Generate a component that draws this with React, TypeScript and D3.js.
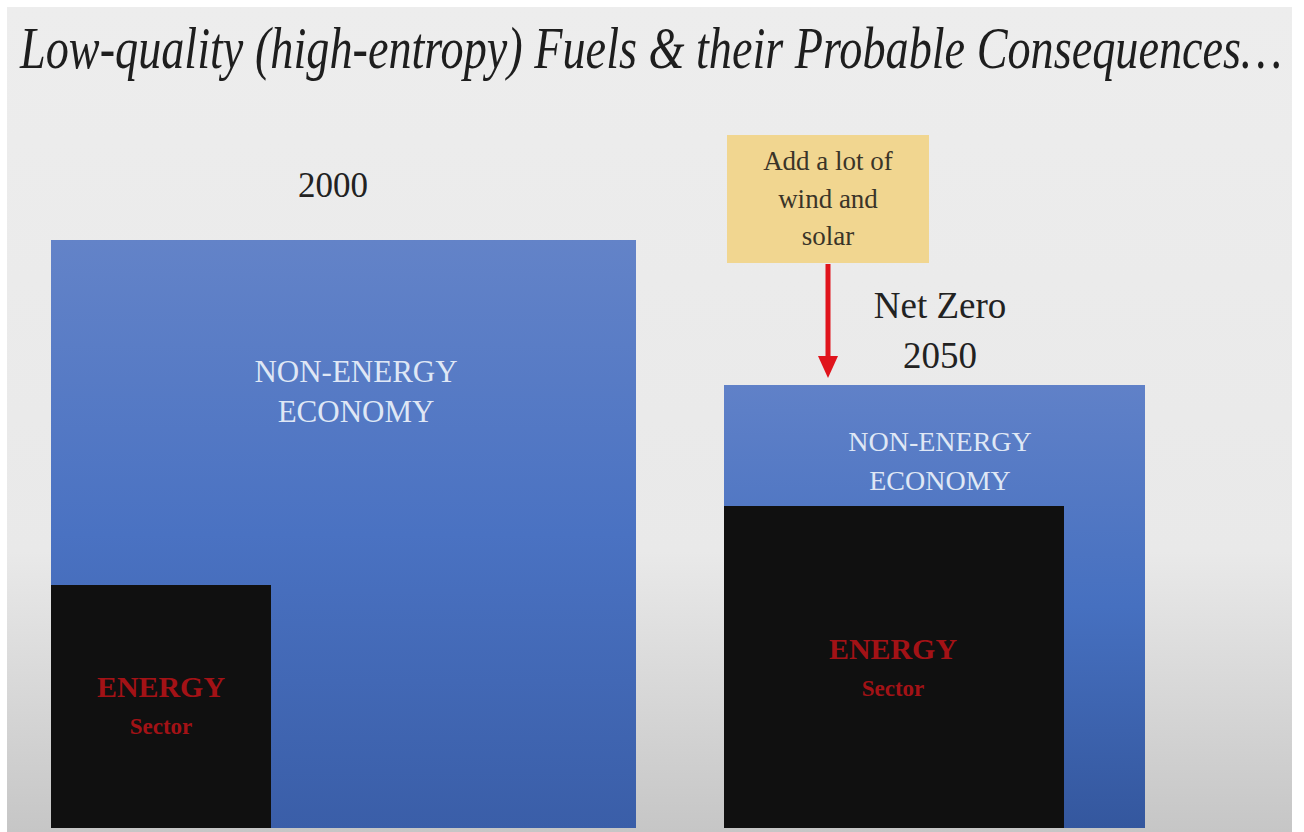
import React, { useLayoutEffect, useRef, useState } from "react";
import * as d3 from "d3";

const W = 1304;
const H = 832;

const panelLabels = ["2000", "Net Zero 2050"];
const economyWidth = [58.5, 42.1];
const economyHeight = [58.8, 44.3];
const energyWidth = [22.0, 34.0];
const energyHeight = [24.3, 32.2];
const economyLabel = ["NON-ENERGY", "ECONOMY"];
const energyLabel = ["ENERGY", "Sector"];
const noteLines = ["Add a lot of", "wind and", "solar"];
const titleText = "Low-quality (high-entropy) Fuels & their Probable Consequences\u2026";

export default function App() {
  const size = d3.scaleLinear().domain([0, 100]).range([0, 1000]);
  const baseY = 828;
  const startX = 51;
  const gap = 88;
  const serif = "'Liberation Serif', 'DejaVu Serif', serif";
  const titleRef = useRef<SVGTextElement | null>(null);
  const [titleScale, setTitleScale] = useState(0.84);
  const titleTarget = 1262;

  useLayoutEffect(() => {
    if (titleRef.current) {
      const len = titleRef.current.getComputedTextLength();
      if (len > 0) setTitleScale(titleTarget / len);
    }
  }, []);

  const panels = panelLabels.map((label, i) => {
    const x0 =
      startX +
      d3.sum(economyWidth.slice(0, i), (v) => size(v)) +
      gap * i;
    const w = size(economyWidth[i]);
    const h = size(economyHeight[i]);
    const ew = size(energyWidth[i]);
    const eh = size(energyHeight[i]);
    return { label, x0, w, h, ew, eh, top: baseY - h, etop: baseY - eh };
  });

  const p0 = panels[0];
  const arrowX = 828;
  const arrowTip = panels[1].top - 7;

  return (
    <svg
      width={W}
      height={H}
      style={{ position: "absolute", left: 0, top: 0 }}
      fontFamily={serif}
    >
      <defs>
        <linearGradient id="bg" x1="0" y1="0" x2="0" y2="1">
          <stop offset="0" stopColor="#ededed" />
          <stop offset="0.66" stopColor="#e9e9e9" />
          <stop offset="1" stopColor="#c6c6c6" />
        </linearGradient>
        <linearGradient id="blue" x1="0" y1="0" x2="0" y2="1">
          <stop offset="0" stopColor="#6383c8" />
          <stop offset="0.5" stopColor="#4a72c2" />
          <stop offset="1" stopColor="#3a5ea8" />
        </linearGradient>
        <linearGradient id="blue2" x1="0" y1="0" x2="0" y2="1">
          <stop offset="0" stopColor="#6081c8" />
          <stop offset="0.5" stopColor="#4670c0" />
          <stop offset="1" stopColor="#34579e" />
        </linearGradient>
      </defs>
      <rect x={0} y={0} width={W} height={H} fill="#ffffff" />
      <rect x={7} y={7} width={1285} height={H - 7} fill="url(#bg)" />

      <g transform={`translate(20,68) scale(${titleScale},1)`}>
        <text
          ref={titleRef}
          x={0}
          y={0}
          fontSize={60}
          fontStyle="italic"
          fill="#1e1e1e"
        >
          {titleText}
        </text>
      </g>

      {panels.map((p, i) => (
        <g key={p.label}>
          <rect
            x={p.x0}
            y={p.top}
            width={p.w}
            height={p.h}
            fill={i === 0 ? "url(#blue)" : "url(#blue2)"}
          />
          <rect x={p.x0} y={p.etop} width={p.ew} height={p.eh} fill="#101010" />
        </g>
      ))}

      {/* 2000 label */}
      <text x={333} y={197} fontSize={35} textAnchor="middle" fill="#222">
        {p0.label}
      </text>

      {/* Net Zero 2050 */}
      <text x={940} y={318} fontSize={37} textAnchor="middle" fill="#222">
        Net Zero
      </text>
      <text x={940} y={368} fontSize={37} textAnchor="middle" fill="#222">
        2050
      </text>

      {/* economy labels */}
      {economyLabel.map((t, j) => (
        <text
          key={"e0" + t}
          x={356}
          y={382 + j * 40}
          fontSize={31}
          textAnchor="middle"
          fill="#dfe7f5"
        >
          {t}
        </text>
      ))}
      {economyLabel.map((t, j) => (
        <text
          key={"e1" + t}
          x={940}
          y={451 + j * 39}
          fontSize={28}
          textAnchor="middle"
          fill="#dfe7f5"
        >
          {t}
        </text>
      ))}

      {/* energy labels */}
      {[
        { x: 161, y: 697 },
        { x: 893, y: 659 },
      ].map((pos, k) => (
        <g key={"en" + k} fill="#a31216" textAnchor="middle">
          <text x={pos.x} y={pos.y} fontSize={29} fontWeight="bold" textLength={128} lengthAdjust="spacingAndGlyphs">
            {energyLabel[0]}
          </text>
          <text x={pos.x} y={pos.y + 37} fontSize={23} fontWeight="bold">
            {energyLabel[1]}
          </text>
        </g>
      ))}

      {/* note box */}
      <rect x={727} y={135} width={202} height={128} fill="#f1d690" />
      {noteLines.map((t, j) => (
        <text
          key={t}
          x={828}
          y={170 + j * 37.5}
          fontSize={27}
          textAnchor="middle"
          fill="#3a3428"
        >
          {t}
        </text>
      ))}

      {/* arrow */}
      <line
        x1={arrowX}
        y1={264}
        x2={arrowX}
        y2={arrowTip - 20}
        stroke="#e0141c"
        strokeWidth={5}
      />
      <path
        d={`M${arrowX - 10},${arrowTip - 22} L${arrowX + 10},${arrowTip - 22} L${arrowX},${arrowTip} Z`}
        fill="#e0141c"
      />
    </svg>
  );
}
